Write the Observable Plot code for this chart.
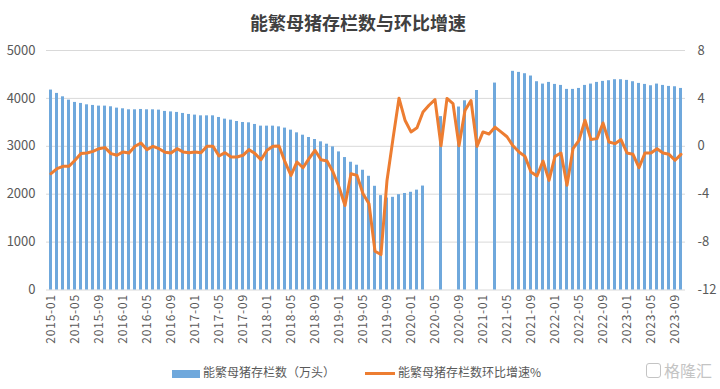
<!DOCTYPE html>
<html>
<head>
<meta charset="utf-8">
<script src="https://cdn.jsdelivr.net/npm/d3@7"></script>
<script src="https://cdn.jsdelivr.net/npm/@observablehq/plot@0.6"></script>
<style>
  body { margin: 0; background: #fff; font-family: "Noto Sans CJK SC", "Noto Sans", sans-serif; }
  #wrap { position: relative; width: 720px; height: 389px; overflow: hidden; }
  #title { position: absolute; top: 9px; left: 0; width: 716px; text-align: center; font-size: 18px; font-weight: bold; color: #404040; line-height: 26px; }
  #chart { position: absolute; top: 36px; left: 0; }
  .leg { position: absolute; top: 364px; font-size: 12px; color: #595959; line-height: 16px; white-space: nowrap; }
  .sw { display: inline-block; vertical-align: middle; margin-right: 3px; }
  #wm { position: absolute; top: 360px; left: 646px; font-size: 16px; color: #c4c4c4; line-height: 20px; white-space: nowrap; }
  #wm span.box { display: inline-block; width: 13px; height: 13px; border: 1.5px solid #c4c4c4; border-radius: 3px; vertical-align: -1px; margin-right: 3px; }
</style>
</head>
<body>
<div id="wrap">
  <div id="title">能繁母猪存栏数与环比增速</div>
  <div id="chart"></div>
  <div class="leg" style="left:172px;"><span class="sw" style="width:28px;height:8px;background:#6fa8dc;"></span>能繁母猪存栏数（万头）</div>
  <div class="leg" style="left:365px;"><span class="sw" style="width:30px;height:3px;background:#ED7D31;"></span>能繁母猪存栏数环比增速%</div>
  <div id="wm"><span class="box"></span>格隆汇</div>
</div>
<script>
// Month categories 2015-01 .. 2023-10
const months = d3.utcMonth.range(new Date(Date.UTC(2015, 0, 1)), new Date(Date.UTC(2023, 10, 1))).map(d3.utcFormat("%Y-%m"));

// Tick labels shown on the x axis
const tickLabels = [
  "2015-01","2015-05","2015-09","2016-01","2016-05","2016-09","2017-01","2017-05","2017-09",
  "2018-01","2018-05","2018-09","2019-01","2019-05","2019-09","2020-01","2020-05","2020-09",
  "2021-01","2021-05","2021-09","2022-01","2022-05","2022-09","2023-01","2023-05","2023-09"
];

// 能繁母猪存栏数（万头）
const stock = [
  4174,4104,4033,3964,3916,3895,3866,3853,3839,3839,3825,3797,
  3783,3762,3762,3769,3762,3762,3755,3728,3718,3707,3686,3665,
  3651,3636,3636,3636,3602,3567,3546,3518,3497,3490,3456,3421,
  3421,3421,3406,3380,3337,3281,3232,3184,3142,3093,3044,2988,
  2883,2765,2667,2605,2500,2374,2165,1970,1920,1935,1990,2015,
  2040,2085,2170,null,null,3620,null,null,3820,3950,null,4165,
  null,null,4320,null,null,4565,4543,4515,4467,4348,4299,4334,
  4292,4271,4188,4188,4208,4271,4299,4334,4355,4369,4390,4390,
  4376,4348,4313,4292,4264,4299,4271,4250,4243,4208
];

// 能繁母猪存栏数环比增速 (%)
const mom = [
  -2.29,-1.87,-1.67,-1.67,-1.17,-0.61,-0.56,-0.42,-0.20,-0.11,-0.61,-0.75,
  -0.47,-0.56,0.00,0.28,-0.28,0.00,-0.20,-0.50,-0.56,-0.20,-0.47,-0.53,
  -0.47,-0.53,0.00,0.00,-0.81,-0.53,-0.89,-0.89,-0.75,-0.28,-0.61,-1.12,
  -0.33,0.00,0.03,-1.31,-2.43,-1.31,-1.79,-1.03,-0.33,-1.12,-1.23,-2.15,
  -3.40,-4.94,-2.29,-2.43,-3.96,-4.80,-8.76,-9.04,-2.85,0.64,4.02,2.18,
  1.20,1.55,2.87,3.43,3.90,0.04,4.00,3.57,0.04,3.00,3.82,0.00,
  1.20,1.03,1.60,1.20,0.80,0.04,-0.47,-0.84,-2.15,-2.48,-1.23,-2.85,
  -0.84,-0.56,-3.26,-0.20,0.50,2.18,0.56,0.64,1.95,0.36,0.22,0.56,
  -0.56,-0.67,-1.79,-0.56,-0.56,-0.20,-0.56,-0.67,-1.17,-0.67
];

const leftTicks = [0, 1000, 2000, 3000, 4000, 5000];
const rightTicks = [-12, -8, -4, 0, 4, 8];

const rows = months.map((m, i) => ({month: m, stock: stock[i], mom: mom[i]}));
// right axis (-12..8) mapped onto left axis (0..5000)
const toLeft = v => (v + 12) * 250;

const chart = Plot.plot({
  width: 720,
  height: 320,
  marginTop: 14,
  marginBottom: 66.5,
  marginLeft: 46,
  marginRight: 35,
  style: {fontFamily: '"Noto Sans CJK SC", "Noto Sans", sans-serif', color: "#595959", background: "#fff"},
  x: {type: "band", domain: months, paddingInner: 0.5, paddingOuter: 0.25, label: null},
  y: {domain: [0, 5000], label: null},
  marks: [
    Plot.ruleY(leftTicks, {stroke: "#d9d9d9", strokeWidth: 1}),
    Plot.barY(rows.filter(d => d.stock != null), {x: "month", y: "stock", fill: "#6fa8dc"}),
    Plot.line(rows, {x: "month", y: d => toLeft(d.mom), stroke: "#ED7D31", strokeWidth: 3, strokeLinejoin: "round"}),
    Plot.axisY(leftTicks, {anchor: "left", tickSize: 0, tickPadding: 11, fontSize: 13, label: null,
      tickFormat: d => String(d)}),
    Plot.axisY(rightTicks.map(toLeft), {anchor: "right", tickSize: 0, tickPadding: 12, fontSize: 13, label: null,
      tickFormat: d => String(d / 250 - 12), textAnchor: "start"}),
    Plot.axisX(tickLabels, {tickSize: 0, tickPadding: 4, tickRotate: -90, fontSize: 12, label: null})
  ]
});
d3.select(chart).selectAll('g[aria-label="x-axis tick label"] text').attr("letter-spacing", "0.8");
document.getElementById("chart").appendChild(chart);
</script>
</body>
</html>
